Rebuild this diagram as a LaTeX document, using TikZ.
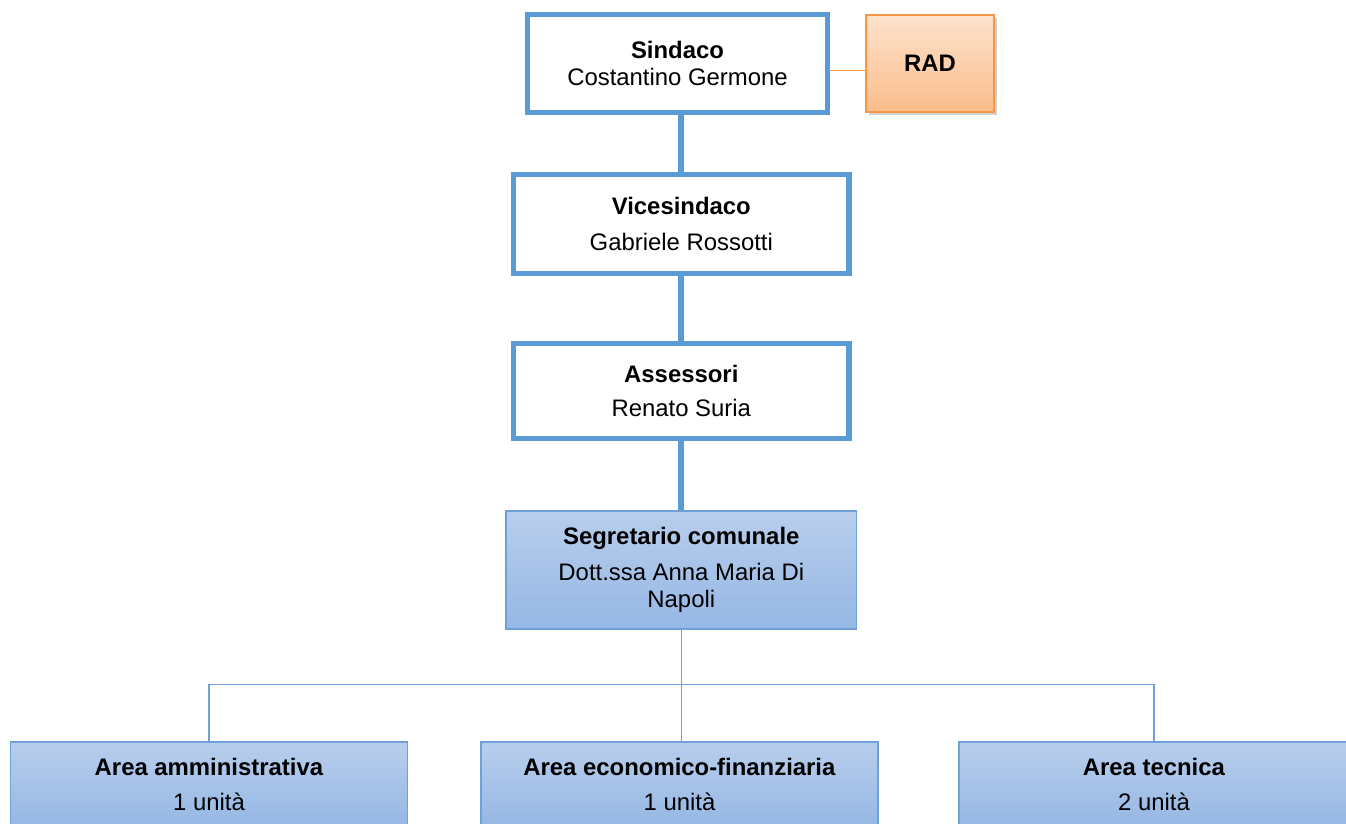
\documentclass[tikz,border=0pt]{standalone}
\usepackage{fontspec}
\setmainfont{Liberation Sans}
\usetikzlibrary{calc,shadows}

\definecolor{boxblue}{RGB}{91,155,213}
\definecolor{linkblue}{RGB}{112,160,216}
\definecolor{radorange}{RGB}{247,150,70}
\definecolor{radtop}{RGB}{253,226,205}
\definecolor{radbottom}{RGB}{251,189,139}
\definecolor{areatop}{RGB}{184,206,236}
\definecolor{areabottom}{RGB}{149,183,228}

\tikzset{
  orgtext/.style={align=center,inner sep=0pt,font=\fontsize{13.6}{15.7}\selectfont},
  leadbox/.style={orgtext,draw=boxblue,line width=3pt,fill=white,rectangle},
  areabox/.style={orgtext,draw=linkblue,line width=0.8pt,rectangle,top color=areatop,bottom color=areabottom},
  radbox/.style={orgtext,draw=radorange,line width=1.2pt,rectangle,top color=radtop,bottom color=radbottom,
    drop shadow={shadow xshift=1.6pt,shadow yshift=-1.6pt,opacity=0.3,fill=black!60}},
  spine/.style={draw=boxblue,line width=3.2pt},
  branch/.style={draw=linkblue,line width=0.8pt}
}

\begin{document}
\begin{tikzpicture}[x=0.02cm,y=-0.02cm]
\useasboundingbox (0,0) rectangle (1346,824);
\clip (0,0) rectangle (1346,824);

\draw node [leadbox,minimum width=6cm,minimum height=1.96cm] (sindaco) at (677.5,63.5) {\textbf{Sindaco}\\Costantino Germone};

\draw node [radbox,minimum width=2.56cm,minimum height=1.94cm] (rad) at ($ (sindaco)+(252.5,0) $) {\textbf{RAD}};

\draw node [leadbox,minimum width=6.71cm,minimum height=1.98cm] (vice) at ($ (sindaco)+(3.8,160.5) $) {\textbf{Vicesindaco}\\[4.5pt]Gabriele Rossotti};

\draw node [leadbox,minimum width=6.71cm,minimum height=1.89cm] (assessori) at ($ (sindaco)+(3.8,327.5) $) {\textbf{Assessori}\\[3.5pt]Renato Suria};

\draw node [areabox,minimum width=7.02cm,minimum height=2.36cm] (segretario) at ($ (sindaco)+(3.8,506.5) $) {\textbf{Segretario comunale}\\[4.5pt]Dott.ssa Anna Maria Di\\Napoli};

\draw node [areabox,minimum width=7.94cm,minimum height=1.7cm] (amministrativa) at ($ (segretario)+(-472.3,214.5) $) {\textbf{Area amministrativa}\\[4.5pt]1 unità};
\draw node [areabox,minimum width=7.94cm,minimum height=1.7cm] (finanziaria) at ($ (segretario)+(-1.8,214.5) $) {\textbf{Area economico-finanziaria}\\[4.5pt]1 unità};
\draw node [areabox,minimum width=7.8cm,minimum height=1.7cm] (tecnica) at ($ (segretario)+(472.7,214.5) $) {\textbf{Area tecnica}\\[4.5pt]2 unità};

\draw[radorange,line width=1.1pt] ([yshift=-4pt]sindaco.east) -- ([yshift=-4pt]rad.west);

\draw[spine] (vice.north) -- (vice.north |- sindaco.south);
\draw[spine] (assessori.north) -- (vice.south);
\draw[spine] (segretario.north) -- (assessori.south);

\coordinate (fork) at ($ (segretario.south)+(0,55) $);
\draw[branch] (segretario.south) -- (fork);
\draw[branch] (amministrativa.north) |- (fork) -| (tecnica.north);
\draw[branch] (fork) -- (fork |- finanziaria.north);

\end{tikzpicture}
\end{document}
